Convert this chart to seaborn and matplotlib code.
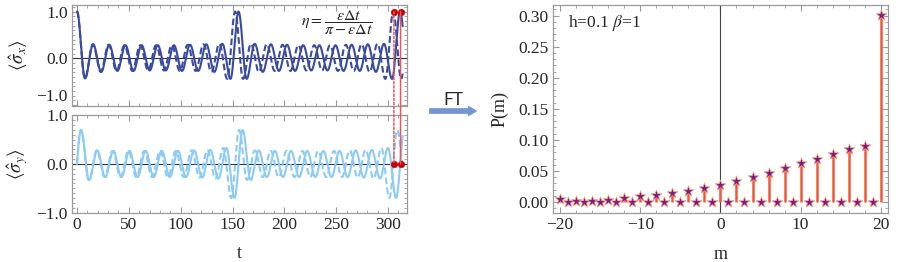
import numpy as np
import matplotlib
matplotlib.use("Agg")
import matplotlib.pyplot as plt
import seaborn as sns
from matplotlib.patches import ConnectionPatch, FancyArrowPatch
from matplotlib.ticker import MultipleLocator, FuncFormatter

# <sigma_x>: extremum values, one per half period (t = k*T/2)
sx_extrema = [1.00, -0.43, 0.30, -0.29, 0.29, -0.27, 0.28, -0.27, 0.28, -0.26,
              0.28, -0.26, 0.28, -0.27, 0.29, -0.27, 0.30, -0.29, 0.31, -0.44,
              1.00, -0.44, 0.31, -0.29, 0.30, -0.27, 0.29, -0.27, 0.28, -0.26,
              0.28, -0.26, 0.28, -0.27, 0.29, -0.27, 0.30, -0.29, 0.31, -0.44,
              1.00, -0.44]
# <sigma_y>: extremum values at odd quarter periods (t = j*T/4, j = -1, 1, 3, ...)
sy_extrema = [-0.70, 0.70, -0.33, 0.28, -0.27, 0.27, -0.27, 0.27, -0.27, 0.27,
              -0.27, 0.27, -0.27, 0.27, -0.27, 0.28, -0.28, 0.29, -0.30, 0.33,
              -0.70, 0.70, -0.33, 0.28, -0.27, 0.27, -0.27, 0.27, -0.27, 0.27,
              -0.27, 0.27, -0.27, 0.27, -0.27, 0.28, -0.28, 0.29, -0.30, 0.33,
              -0.70, 0.70, -0.33]
period_solid = 15.58
period_dashed = 15.25
t_end = 314.0
revival_t = [305.6, 312.0]   # dashed, solid red markers

# P(m) stem data
m_vals = list(range(-20, 21))
p_vals = [0.005, 0, 0.002, 0, 0.002, 0, 0.004, 0, 0.006, 0,
          0.009, 0, 0.011, 0, 0.014, 0, 0.018, 0, 0.023, 0,
          0.027, 0, 0.034, 0, 0.040, 0, 0.047, 0, 0.055, 0,
          0.063, 0, 0.070, 0, 0.078, 0, 0.085, 0, 0.090, 0,
          0.301]

sns.set_style("ticks")
plt.rcParams["font.family"] = ["Liberation Serif", "DejaVu Serif"]
plt.rcParams["mathtext.fontset"] = "stix"

C_X = "#3a4aa0"
C_Y = "#8ccbf5"
C_RED = "#e8585a"
C_DOT = "#c40000"
FRAME = "#9a9a9a"


def through_extrema(t_ext, v_ext, t):
    # join the read extrema with half-cosine arcs
    t_ext = np.asarray(t_ext)
    v_ext = np.asarray(v_ext)
    i = np.clip(np.searchsorted(t_ext, t) - 1, 0, len(t_ext) - 2)
    t0, t1 = t_ext[i], t_ext[i + 1]
    w = (1 - np.cos(np.pi * (t - t0) / (t1 - t0))) / 2
    return v_ext[i] + (v_ext[i + 1] - v_ext[i]) * w


def style_frame(ax):
    for s in ax.spines.values():
        s.set_color(FRAME)
        s.set_linewidth(0.9)
    ax.tick_params(which="both", direction="in", top=True, right=True,
                   color=FRAME, labelsize=12.5, pad=3)
    ax.tick_params(which="major", length=4)
    ax.tick_params(which="minor", length=2)


fig = plt.figure(figsize=(9, 2.62), dpi=100)
ax1 = fig.add_axes([0.080, 0.5954, 0.3722, 0.3855])
ax2 = fig.add_axes([0.080, 0.1889, 0.3722, 0.3722])
ax3 = fig.add_axes([0.6144, 0.187, 0.3722, 0.7939])

t = np.linspace(0, t_end, 4000)
k = np.arange(len(sx_extrema))
j = np.arange(-1, 2 * len(sy_extrema) - 2, 2)

dash = (0, (3.2, 1.6))
curves = [
    (ax1, through_extrema(k * period_solid / 2, sx_extrema, t), C_X, "-"),
    (ax1, through_extrema(k * period_dashed / 2, sx_extrema, t), C_X, dash),
    (ax2, through_extrema(j * period_solid / 4, sy_extrema, t), C_Y, "-"),
    (ax2, through_extrema(j * period_dashed / 4, sy_extrema, t), C_Y, dash),
]
for ax, y, c, ls in curves:
    sns.lineplot(x=t, y=y, ax=ax, color=c, linewidth=1.5, linestyle=ls,
                 sort=False, estimator=None)

fmt1 = FuncFormatter(lambda v, p: f"{v:.1f}".replace("-", "\u2212"))
for ax, ylim in [(ax1, (-1.02, 1.14)), (ax2, (-1.0, 1.01))]:
    ax.axhline(0, color="#333333", lw=0.8, zorder=1)
    ax.set_xlim(-4.8, 318.2)
    ax.set_ylim(*ylim)
    ax.set_yticks([-1, 0, 1])
    ax.yaxis.set_major_formatter(fmt1)
    ax.yaxis.set_minor_locator(MultipleLocator(0.1))
    ax.xaxis.set_major_locator(MultipleLocator(50))
    ax.xaxis.set_minor_locator(MultipleLocator(10))
    style_frame(ax)
ax1.tick_params(labelbottom=False)
ax1.set_ylabel(r"$\langle\hat{\sigma}_x\rangle$", fontsize=13.5, labelpad=5)
ax2.set_ylabel(r"$\langle\hat{\sigma}_y\rangle$", fontsize=13.5, labelpad=5)
ax2.set_xlabel("t", fontsize=13, labelpad=9)

# keep the top panel's -1.0 label inside its own frame
fig.canvas.draw()
ax1.get_yticklabels()[0].set_verticalalignment("bottom")

ax1.text(251, 0.76, r"$\eta=\dfrac{\epsilon\Delta t}{\pi-\epsilon\Delta t}$",
         fontsize=11.5, ha="center", va="center")

# red markers linking both panels
for tr, ls in zip(revival_t, [(0, (1.5, 1.2)), "-"]):
    con = ConnectionPatch(xyA=(tr, 1.0), coordsA=ax1.transData,
                          xyB=(tr, 0.0), coordsB=ax2.transData,
                          color=C_RED, lw=1.1, linestyle=ls, zorder=5)
    fig.add_artist(con)
sns.scatterplot(x=revival_t, y=[1.0, 1.0], ax=ax1, color=C_DOT, s=22,
                edgecolor=C_DOT, zorder=6, clip_on=False)
sns.scatterplot(x=revival_t, y=[0.0, 0.0], ax=ax2, color=C_DOT, s=22,
                edgecolor=C_DOT, zorder=6, clip_on=False)

# FT arrow
fig.add_artist(FancyArrowPatch((0.4744, 0.5763), (0.5322, 0.5763),
                               transform=fig.transFigure,
                               arrowstyle="simple,head_width=0.45,head_length=0.4,tail_width=0.22",
                               mutation_scale=14, color="#7296d2"))
fig.text(0.5033, 0.618, "FT", family="Lato", fontsize=12.5,
         ha="center", va="center")

# P(m) panel
ax3.axvline(0, color="#444444", lw=0.8, zorder=1)
ax3.vlines(m_vals, 0, p_vals, color="#f4583a", lw=1.8, zorder=2)
sns.scatterplot(x=m_vals, y=p_vals, ax=ax3, marker="*", s=65,
                color="#7d1a8c", edgecolor="#f6a06a", linewidth=0.5, zorder=3)
ax3.set_xlim(-20.9, 20.9)
ax3.set_ylim(-0.0177, 0.317)
ax3.xaxis.set_major_locator(MultipleLocator(10))
ax3.xaxis.set_minor_locator(MultipleLocator(2))
ax3.yaxis.set_major_locator(MultipleLocator(0.05))
ax3.yaxis.set_minor_locator(MultipleLocator(0.01))
ax3.yaxis.set_major_formatter(FuncFormatter(lambda v, p: f"{v:.2f}"))
style_frame(ax3)
ax3.set_xlabel("m", fontsize=13, labelpad=9)
ax3.set_ylabel("P(m)", fontsize=13, labelpad=7)
ax3.text(0.045, 0.915, r"h=0.1 $\beta$=1", transform=ax3.transAxes,
         fontsize=12.5, ha="left", va="center")

fig.savefig("out.png", dpi=100)
